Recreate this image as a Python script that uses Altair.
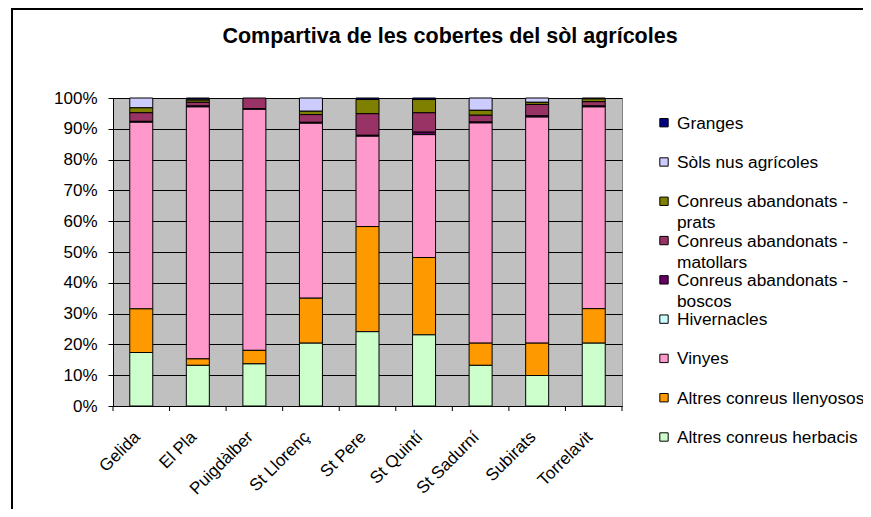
import altair as alt
import pandas as pd

categories = ["Gelida", "El Pla", "Puigdàlber", "St Llorenç", "St Pere",
              "St Quintí", "St Sadurní", "Subirats", "Torrelavit"]

series = ["Granges", "Sòls nus agrícoles", "Conreus abandonats - prats",
          "Conreus abandonats - matollars", "Conreus abandonats - boscos",
          "Hivernacles", "Vinyes", "Altres conreus llenyosos",
          "Altres conreus herbacis"]
colors = ["#000080", "#CCCCFF", "#808000", "#993366", "#660066",
          "#CCFFFF", "#FF99CC", "#FF9900", "#CCFFCC"]

granges     = [0.0, 0.4, 0.0, 0.0, 0.5, 0.5, 0.0, 0.0, 0.3]
sols_nus    = [3.2, 0.3, 0.0, 4.3, 0.0, 0.0, 4.0, 1.4, 0.0]
prats       = [1.6, 0.7, 0.0, 1.1, 4.6, 4.3, 1.6, 0.7, 0.9]
matollars   = [2.8, 1.2, 3.5, 2.5, 7.0, 6.3, 2.2, 3.7, 1.4]
boscos      = [0.3, 0.3, 0.2, 0.3, 0.3, 0.8, 0.3, 0.4, 0.3]
hivernacles = [0.0, 0.0, 0.0, 0.0, 0.0, 0.0, 0.0, 0.0, 0.0]
vinyes      = [60.7, 81.8, 78.4, 56.8, 29.3, 39.9, 71.5, 73.4, 65.5]
llenyosos   = [14.2, 2.1, 4.4, 14.6, 34.1, 25.1, 7.2, 10.5, 11.2]
herbacis    = [17.4, 13.2, 13.7, 20.4, 24.1, 23.1, 13.2, 9.9, 20.4]

y_ticks = [0, 0.1, 0.2, 0.3, 0.4, 0.5, 0.6, 0.7, 0.8, 0.9, 1.0]
title_text = "Compartiva de les cobertes del sòl agrícoles"

FONT = "Liberation Sans"

values = [granges, sols_nus, prats, matollars, boscos, hivernacles,
          vinyes, llenyosos, herbacis]
rows = []
for i, (s, vals) in enumerate(zip(series, values)):
    for c, v in zip(categories, vals):
        rows.append({"cat": c, "serie": s, "value": v, "ord": len(series) - 1 - i})
df = pd.DataFrame(rows)

color_scale = alt.Scale(domain=series, range=colors)

bars = alt.Chart(df).transform_filter("datum.value > 0").mark_bar(
    size=23, stroke="black", strokeWidth=1
).encode(
    x=alt.X("cat:N", sort=categories,
            scale=alt.Scale(paddingInner=0, paddingOuter=0),
            axis=alt.Axis(title=None, labelAngle=-45, labelAlign="right",
                          labelBaseline="middle", labelPadding=28, labelOffset=-4,
                          ticks=False, domainColor="black", labelFontSize=17,
                          labelColor="black", labelFont=FONT, labelLimit=300)),
    y=alt.Y("value:Q", stack="normalize",
            scale=alt.Scale(domain=[0, 1], nice=False),
            axis=alt.Axis(title=None, format=".0%", values=y_ticks, grid=True,
                          gridColor="black", gridOpacity=1, tickColor="black",
                          tickSize=5, domainColor="black", labelPadding=11,
                          labelFontSize=17, labelColor="black", labelFont=FONT)),
    color=alt.Color("serie:N", scale=color_scale, legend=None),
    order=alt.Order("ord:Q", sort="ascending"),
)

ticks_df = pd.DataFrame({"cat": categories})
xticks = alt.Chart(ticks_df).mark_rule(color="black", strokeWidth=1).encode(
    x=alt.X("cat:N", sort=categories, bandPosition=0),
    y=alt.value(308), y2=alt.value(313),
)
last_tick = alt.Chart(ticks_df).transform_filter(
    alt.datum.cat == categories[-1]
).mark_rule(color="black", strokeWidth=1).encode(
    x=alt.X("cat:N", sort=categories, bandPosition=1),
    y=alt.value(308), y2=alt.value(313),
)

leg_df = pd.DataFrame({
    "serie": series,
    "rank": list(range(len(series))),
    "label": [s.replace(" - ", " -\n") for s in series],
})
leg_y = alt.Y("rank:Q", scale=alt.Scale(domain=[0, 8], range=[24.7, 339]), axis=None)

leg_sym = alt.Chart(leg_df).mark_square(
    size=70, stroke="black", strokeWidth=1, opacity=1
).encode(
    x=alt.value(551), y=leg_y,
    color=alt.Color("serie:N", scale=color_scale, legend=None),
)
leg_text = alt.Chart(leg_df).mark_text(
    align="left", baseline="top", dy=-8, fontSize=17.3, lineBreak="\n",
    lineHeight=21, font=FONT, color="black"
).encode(
    x=alt.value(564), y=leg_y, text="label:N",
)

title = alt.Chart(pd.DataFrame({"t": [title_text]})).mark_text(
    fontSize=21.5, fontWeight="bold", align="center", baseline="alphabetic",
    font=FONT, color="black"
).encode(x=alt.value(337), y=alt.value(-55), text="t:N")

border = alt.Chart(pd.DataFrame({"a": [0]})).mark_rect(
    fill="transparent", stroke="black", strokeWidth=2
).encode(x=alt.value(-101), x2=alt.value(800), y=alt.value(-89), y2=alt.value(450))

chart = alt.layer(
    border, bars, xticks, last_tick, leg_sym, leg_text, title
).resolve_scale(
    y="independent"
).properties(
    width=509, height=308,
    padding={"left": 105, "top": 90, "right": 241, "bottom": 103},
    autosize=alt.AutoSizeParams(type="none"),
    background="white",
).configure_view(
    fill="#C0C0C0", stroke="#808080"
)

chart.save("out.html", embed_options={"renderer": "svg", "actions": False})
